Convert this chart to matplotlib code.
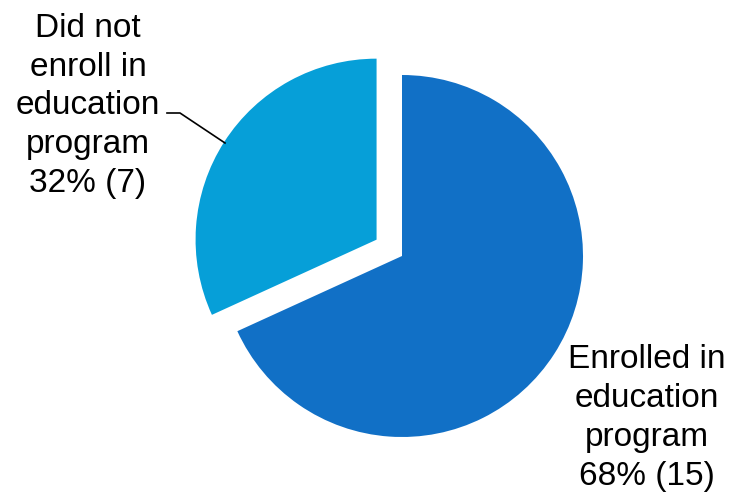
import matplotlib.pyplot as plt

# Data
labels = ['Enrolled in\neducation\nprogram', 'Did not\nenroll in\neducation\nprogram']
counts = [15, 7]
colors = ['#1170C6', '#069FD8']
explode_frac = [0, 0.167]

total = sum(counts)
texts = [f"{lab}\n{round(100 * c / total)}% ({c})" for lab, c in zip(labels, counts)]

plt.rcParams['font.family'] = ['Liberation Sans', 'DejaVu Sans']

fig = plt.figure(figsize=(7.32, 4.96), dpi=100)
ax = fig.add_axes([0, 0, 1, 1])

radius = 181
# explode is in data units in pie(), so scale it by the radius
ax.pie(counts, colors=colors, explode=[e * radius for e in explode_frac],
       startangle=90, counterclock=False,
       center=(402, 240), radius=radius, wedgeprops=dict(linewidth=0))

# pie() resets the limits, so set pixel-sized limits afterwards
ax.set_xlim(0, 732)
ax.set_ylim(0, 496)
ax.set_aspect('equal')
ax.axis('off')

# labels
ax.text(647, 78, texts[0], ha='center', va='center', fontsize=24, linespacing=1.32)
ax.text(88, 390, texts[1], ha='center', va='center', fontsize=24, linespacing=1.32)

# leader line for the exploded slice
ax.plot([167, 180, 225], [383, 383, 353], color='black', linewidth=1.2)

fig.savefig('out.png', dpi=100)
